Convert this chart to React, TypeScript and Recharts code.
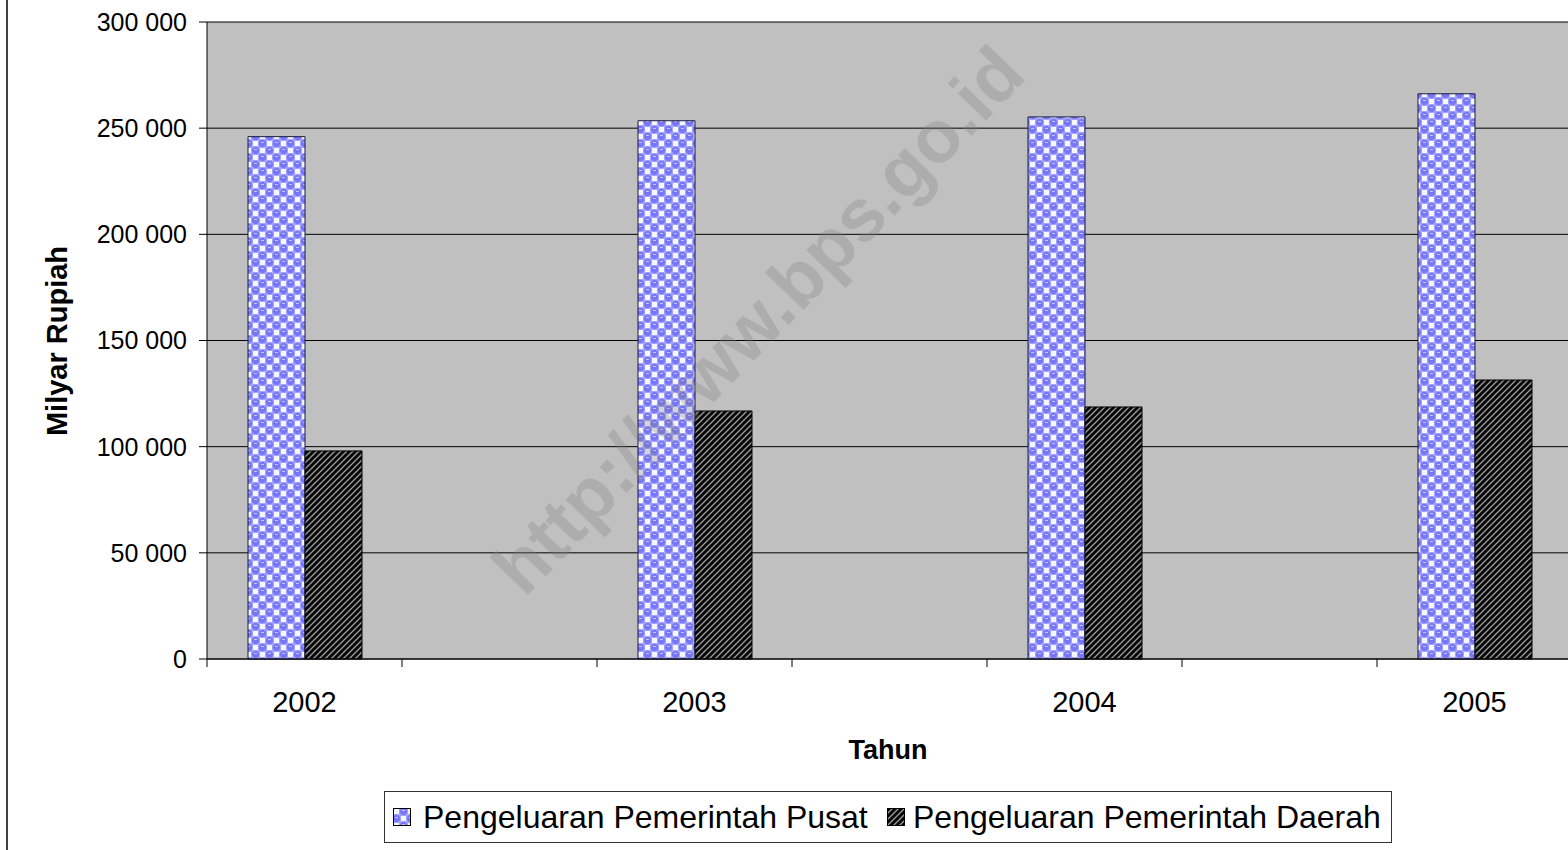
import React from 'react';
import {
  BarChart,
  Bar,
  XAxis,
  YAxis,
  CartesianGrid,
} from 'recharts';

// Tahun (kategori kosong di antara tahun, seperti grafik aslinya)
const categories = ['2002', '', '2003', '', '2004', '', '2005'];
const pusat = [246000, null, 253500, null, 255300, null, 266200];
const daerah = [98000, null, 116800, null, 118700, null, 131400];
const yTicks = [0, 50000, 100000, 150000, 200000, 250000, 300000];
const seriesNames = ['Pengeluaran Pemerintah Pusat', 'Pengeluaran Pemerintah Daerah'];

const data = categories.map((year, i) => ({
  year,
  pusat: pusat[i],
  daerah: daerah[i],
}));

const FONT = '"Liberation Sans", Arial, sans-serif';
const BAND = 195;

const fmt = (v: number) => String(v).replace(/\B(?=(\d{3})+(?!\d))/g, ' ');

const Patterns = ({ prefix }: { prefix: string }) => (
  <defs>
    <pattern id={`${prefix}-blue`} width="14" height="14" patternUnits="userSpaceOnUse">
      <rect width="14" height="14" fill="#a4a4ff" />
      <rect x="1" y="1" width="5" height="5" fill="#f6f6ff" />
      <rect x="8" y="8" width="5" height="5" fill="#f6f6ff" />
      <circle cx="10.5" cy="3.5" r="3.6" fill="#7676f6" />
      <circle cx="3.5" cy="10.5" r="3.6" fill="#7676f6" />
      <rect x="9" y="2" width="3" height="1" fill="#c4c4ff" />
      <rect x="2" y="9" width="3" height="1" fill="#c4c4ff" />
    </pattern>
    <pattern id={`${prefix}-dark`} width="6" height="6" patternUnits="userSpaceOnUse">
      <rect width="6" height="6" fill="#050505" />
      <path d="M-1,7 L7,-1 M-4,4 L4,-4 M2,10 L10,2" stroke="#9a9a9a" strokeWidth="1.4" />
    </pattern>
  </defs>
);

const XTick = (props: any) => {
  const { x, y, payload, index } = props;
  const left = x - BAND / 2;
  return (
    <g>
      <line x1={left} y1={y} x2={left} y2={y + 8} stroke="#000" />
      {index === categories.length - 1 && (
        <line x1={x + BAND / 2} y1={y} x2={x + BAND / 2} y2={y + 8} stroke="#000" />
      )}
      <text
        x={x}
        y={y + 43}
        textAnchor="middle"
        dominantBaseline="central"
        fontSize={29}
        fontFamily={FONT}
        fill="#000"
      >
        {payload.value}
      </text>
    </g>
  );
};

const LegendIcon = ({ kind }: { kind: string }) => (
  <svg width="18" height="18" style={{ display: 'block' }}>
    <Patterns prefix={`lg-${kind}`} />
    <rect x="0.5" y="0.5" width="17" height="17" fill={`url(#lg-${kind}-${kind})`} stroke="#000" />
  </svg>
);

// posisi ikon dan teks legenda (relatif terhadap kotak legenda)
const legendPos = [
  { icon: 8, text: 38 },
  { icon: 502, text: 528 },
];

export default function App() {
  return (
    <div
      style={{
        position: 'absolute',
        left: 0,
        top: 0,
        width: 1568,
        height: 850,
        overflow: 'hidden',
        background: '#fff',
        fontFamily: FONT,
      }}
    >
      <div style={{ position: 'absolute', left: 6, top: 0, width: 2, height: 850, background: '#404040' }} />

      <div style={{ position: 'absolute', left: 0, top: 0 }}>
        <BarChart
          width={1580}
          height={850}
          data={data}
          margin={{ top: 22, right: 8, left: 0, bottom: 131 }}
          barCategoryGap={41}
          barGap={0}
        >
          <Patterns prefix="ch" />
          <CartesianGrid vertical={false} stroke="#000" fill="#c0c0c0" fillOpacity={1} />
          <XAxis
            dataKey="year"
            height={60}
            tickLine={false}
            tickSize={0}
            tickMargin={0}
            axisLine={{ stroke: '#000' }}
            tick={<XTick />}
            interval={0}
          />
          <YAxis
            width={207}
            domain={[0, 300000]}
            ticks={yTicks}
            tickFormatter={fmt}
            tickSize={8}
            tickMargin={12}
            axisLine={{ stroke: '#000' }}
            tickLine={{ stroke: '#000' }}
            tick={{ fontSize: 25, fontFamily: FONT, fill: '#000' }}
            interval={0}
          />
          <Bar dataKey="pusat" name={seriesNames[0]} fill="url(#ch-blue)" stroke="#1a1a40" strokeWidth={1} isAnimationActive={false} />
          <Bar dataKey="daerah" name={seriesNames[1]} fill="url(#ch-dark)" stroke="#000" strokeWidth={1} isAnimationActive={false} />
        </BarChart>
      </div>

      {/* watermark */}
      <svg width={1568} height={850} style={{ position: 'absolute', left: 0, top: 0, pointerEvents: 'none' }}>
        <text
          x={758}
          y={320}
          transform="rotate(-46 758 320)"
          textAnchor="middle"
          dominantBaseline="central"
          fontSize={74}
          fontWeight="bold"
          fontFamily={FONT}
          fill="#808080"
          fillOpacity={0.3}
        >
          http://www.bps.go.id
        </text>
      </svg>

      {/* judul sumbu */}
      <div
        style={{
          position: 'absolute',
          left: 57,
          top: 341,
          transform: 'translate(-50%, -50%) rotate(-90deg)',
          fontSize: 29,
          fontWeight: 'bold',
          whiteSpace: 'nowrap',
        }}
      >
        Milyar Rupiah
      </div>
      <div
        style={{
          position: 'absolute',
          left: 888,
          top: 750,
          transform: 'translate(-50%, -50%)',
          fontSize: 27,
          fontWeight: 'bold',
          whiteSpace: 'nowrap',
        }}
      >
        Tahun
      </div>

      {/* legenda */}
      <div
        style={{
          position: 'absolute',
          left: 384,
          top: 791,
          width: 1006,
          height: 50,
          border: '1px solid #333',
          fontSize: 32,
          whiteSpace: 'nowrap',
        }}
      >
        {seriesNames.map((name, i) => (
          <React.Fragment key={name}>
            <div style={{ position: 'absolute', left: legendPos[i].icon, top: 16 }}>
              <LegendIcon kind={i === 0 ? 'blue' : 'dark'} />
            </div>
            <div style={{ position: 'absolute', left: legendPos[i].text, top: 25, transform: 'translateY(-50%)', lineHeight: 1 }}>
              {name}
            </div>
          </React.Fragment>
        ))}
      </div>
    </div>
  );
}
